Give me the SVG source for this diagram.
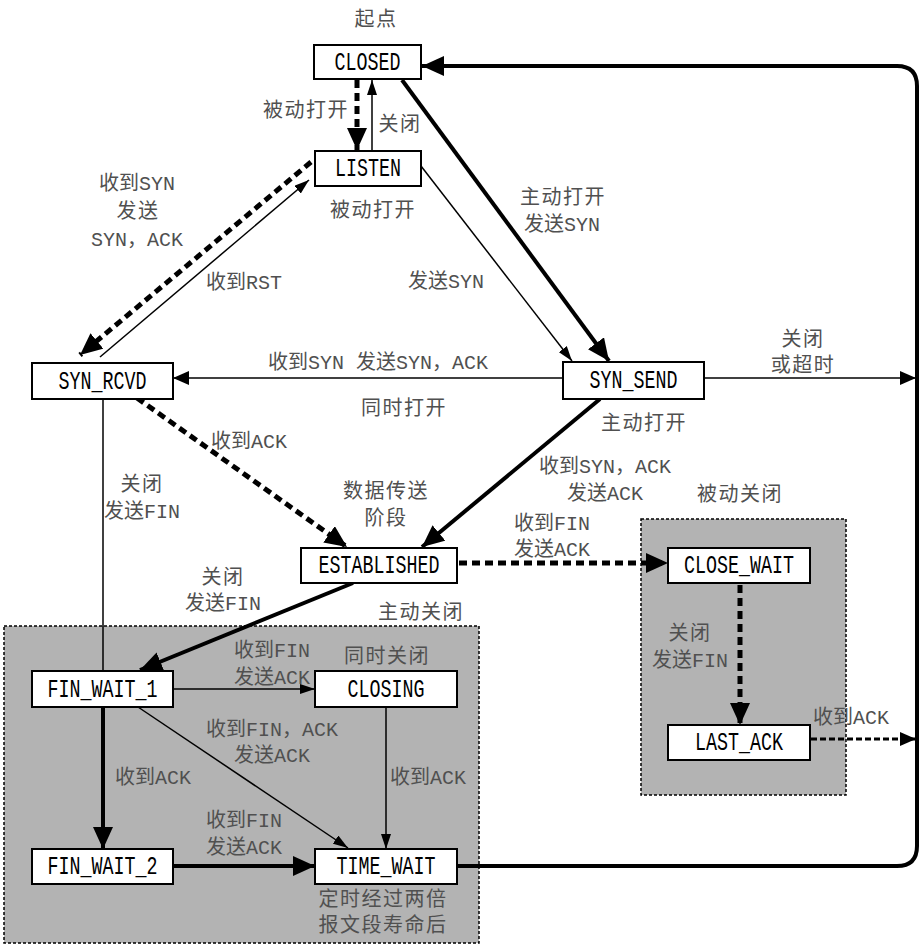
<svg xmlns="http://www.w3.org/2000/svg" width="922" height="948" viewBox="0 0 922 948">
<style>
.node rect{fill:#fff;stroke:#000;stroke-width:2}
.node text{font-family:"Liberation Mono","Noto Sans CJK SC",monospace;font-size:26px;fill:#000;text-anchor:middle}
.lbl{font-family:"Liberation Mono","Noto Sans CJK SC",monospace;font-size:20px;fill:#505050;text-anchor:middle}
.cjk{letter-spacing:1.5px}
.region{fill:#b3b3b3;stroke:#000;stroke-width:1.5;stroke-dasharray:3 2}
.thin{fill:none;stroke:#000;stroke-width:1.5}
.thick{fill:none;stroke:#000;stroke-width:4}
.dash{fill:none;stroke:#000;stroke-width:5;stroke-dasharray:8 5}
.dash2{fill:none;stroke:#000;stroke-width:3;stroke-dasharray:6 3}
</style>
<defs>
<marker id="big" markerUnits="userSpaceOnUse" markerWidth="22" markerHeight="20" refX="22" refY="10" orient="auto">
<path d="M0,0 L22,10 L0,20 z" fill="#000"/>
</marker>
<marker id="sm" markerUnits="userSpaceOnUse" markerWidth="15" markerHeight="10" refX="15" refY="5" orient="auto">
<path d="M0,0 L15,5 L0,10 z" fill="#000"/>
</marker>
<marker id="mid" markerUnits="userSpaceOnUse" markerWidth="16" markerHeight="14" refX="16" refY="7" orient="auto">
<path d="M0,0 L16,7 L0,14 z" fill="#000"/>
</marker>
</defs>

<g id="regions">
<rect class="region" x="4" y="626" width="475" height="317"/>
<rect class="region" x="641" y="519" width="205" height="276"/>
</g>

<g id="connectors">
<path class="dash" d="M357,80 L357,150" marker-end="url(#big)"/>
<path class="thin" d="M372,151 L372,80" marker-end="url(#sm)"/>
<path class="thick" d="M402,80 L609,361" marker-end="url(#big)"/>
<path class="thin" d="M421,166 L572,361" marker-end="url(#sm)"/>
<path class="dash" d="M311,162 L80,355" marker-end="url(#big)"/>
<path class="thin" d="M100,357 L309,180" marker-end="url(#sm)"/>
<path class="thin" d="M563,378 L173,378" marker-end="url(#mid)"/>
<path class="thin" d="M704,378 L916,378" marker-end="url(#mid)"/>
<path class="thick" d="M600,399 L422,547" marker-end="url(#big)"/>
<path class="dash" d="M137,398 L347,547" marker-end="url(#big)"/>
<path class="thin" d="M103,399 L103,671"/>
<path class="thick" d="M353,583 L140,670" marker-end="url(#big)"/>
<path class="dash" d="M459,563 L668,563" marker-end="url(#big)"/>
<path class="dash" d="M740,585 L740,725" marker-end="url(#big)"/>
<path class="dash2" d="M811,739 L916,739" marker-end="url(#mid)"/>
<path class="thin" d="M173,689 L315,689" marker-end="url(#sm)"/>
<path class="thin" d="M138,707 L348,848" marker-end="url(#sm)"/>
<path class="thin" d="M386,707 L386,849" marker-end="url(#sm)"/>
<path class="thick" d="M103,707 L103,849" marker-end="url(#big)"/>
<path class="thick" d="M173,866 L315,866" marker-end="url(#big)"/>
<path class="thick" d="M457,866 L897,866 Q917,866 917,846 L917,86 Q917,66 897,66 L422,66" marker-end="url(#big)"/>
</g>

<g id="CLOSED" class="node"><rect x="314" y="45" width="107" height="34"/><text x="367.5" y="70" textLength="66" lengthAdjust="spacingAndGlyphs">CLOSED</text></g>
<g id="LISTEN" class="node"><rect x="315" y="151" width="106" height="35"/><text x="368" y="176" textLength="66" lengthAdjust="spacingAndGlyphs">LISTEN</text></g>
<g id="SYN_RCVD" class="node"><rect x="32" y="363" width="141" height="36"/><text x="102.5" y="389" textLength="88" lengthAdjust="spacingAndGlyphs">SYN_RCVD</text></g>
<g id="SYN_SEND" class="node"><rect x="563" y="362" width="141" height="37"/><text x="633.5" y="388" textLength="88" lengthAdjust="spacingAndGlyphs">SYN_SEND</text></g>
<g id="ESTABLISHED" class="node"><rect x="301" y="548" width="156" height="35"/><text x="379" y="573" textLength="121" lengthAdjust="spacingAndGlyphs">ESTABLISHED</text></g>
<g id="CLOSE_WAIT" class="node"><rect x="668" y="548" width="142" height="35"/><text x="739" y="573" textLength="110" lengthAdjust="spacingAndGlyphs">CLOSE_WAIT</text></g>
<g id="LAST_ACK" class="node"><rect x="668" y="725" width="142" height="35"/><text x="739" y="750" textLength="88" lengthAdjust="spacingAndGlyphs">LAST_ACK</text></g>
<g id="FIN_WAIT_1" class="node"><rect x="32" y="671" width="141" height="36"/><text x="102.5" y="697" textLength="110" lengthAdjust="spacingAndGlyphs">FIN_WAIT_1</text></g>
<g id="CLOSING" class="node"><rect x="315" y="671" width="142" height="36"/><text x="386" y="697" textLength="77" lengthAdjust="spacingAndGlyphs">CLOSING</text></g>
<g id="FIN_WAIT_2" class="node"><rect x="32" y="849" width="141" height="35"/><text x="102.5" y="874" textLength="110" lengthAdjust="spacingAndGlyphs">FIN_WAIT_2</text></g>
<g id="TIME_WAIT" class="node"><rect x="315" y="849" width="142" height="35"/><text x="386" y="874" textLength="99" lengthAdjust="spacingAndGlyphs">TIME_WAIT</text></g>

<g id="labels">
<text class="lbl cjk" x="376" y="26">起点</text>
<text class="lbl cjk" x="306" y="117">被动打开</text>
<text class="lbl cjk" x="400" y="131">关闭</text>
<text class="lbl cjk" x="373" y="217">被动打开</text>
<text class="lbl" x="137" y="190">收到SYN</text>
<text class="lbl cjk" x="138" y="218">发送</text>
<text class="lbl" x="137" y="246">SYN，ACK</text>
<text class="lbl" x="244" y="289">收到RST</text>
<text class="lbl cjk" x="563" y="204">主动打开</text>
<text class="lbl" x="562" y="231">发送SYN</text>
<text class="lbl" x="446" y="288">发送SYN</text>
<text class="lbl cjk" x="803" y="346">关闭</text>
<text class="lbl cjk" x="803" y="372">或超时</text>
<text class="lbl" x="378" y="369" xml:space="preserve">收到SYN 发送SYN，ACK</text>
<text class="lbl cjk" x="404" y="415">同时打开</text>
<text class="lbl cjk" x="644" y="430">主动打开</text>
<text class="lbl" x="249" y="448">收到ACK</text>
<text class="lbl" x="605" y="473">收到SYN，ACK</text>
<text class="lbl" x="605" y="500">发送ACK</text>
<text class="lbl cjk" x="386" y="498">数据传送</text>
<text class="lbl cjk" x="386" y="525">阶段</text>
<text class="lbl cjk" x="740" y="501">被动关闭</text>
<text class="lbl cjk" x="142" y="491">关闭</text>
<text class="lbl" x="142" y="518">发送FIN</text>
<text class="lbl" x="552" y="530">收到FIN</text>
<text class="lbl" x="552" y="556">发送ACK</text>
<text class="lbl cjk" x="223" y="584">关闭</text>
<text class="lbl" x="223" y="610">发送FIN</text>
<text class="lbl cjk" x="421" y="619">主动关闭</text>
<text class="lbl" x="272" y="657">收到FIN</text>
<text class="lbl" x="272" y="684">发送ACK</text>
<text class="lbl cjk" x="387" y="663">同时关闭</text>
<text class="lbl" x="272" y="736">收到FIN，ACK</text>
<text class="lbl" x="272" y="762">发送ACK</text>
<text class="lbl" x="153" y="784">收到ACK</text>
<text class="lbl" x="428" y="784">收到ACK</text>
<text class="lbl" x="244" y="827">收到FIN</text>
<text class="lbl" x="244" y="854">发送ACK</text>
<text class="lbl cjk" x="383" y="906">定时经过两倍</text>
<text class="lbl cjk" x="383" y="932">报文段寿命后</text>
<text class="lbl cjk" x="690" y="640">关闭</text>
<text class="lbl" x="690" y="667">发送FIN</text>
<text class="lbl" x="851" y="724">收到ACK</text>
</g>
</svg>
